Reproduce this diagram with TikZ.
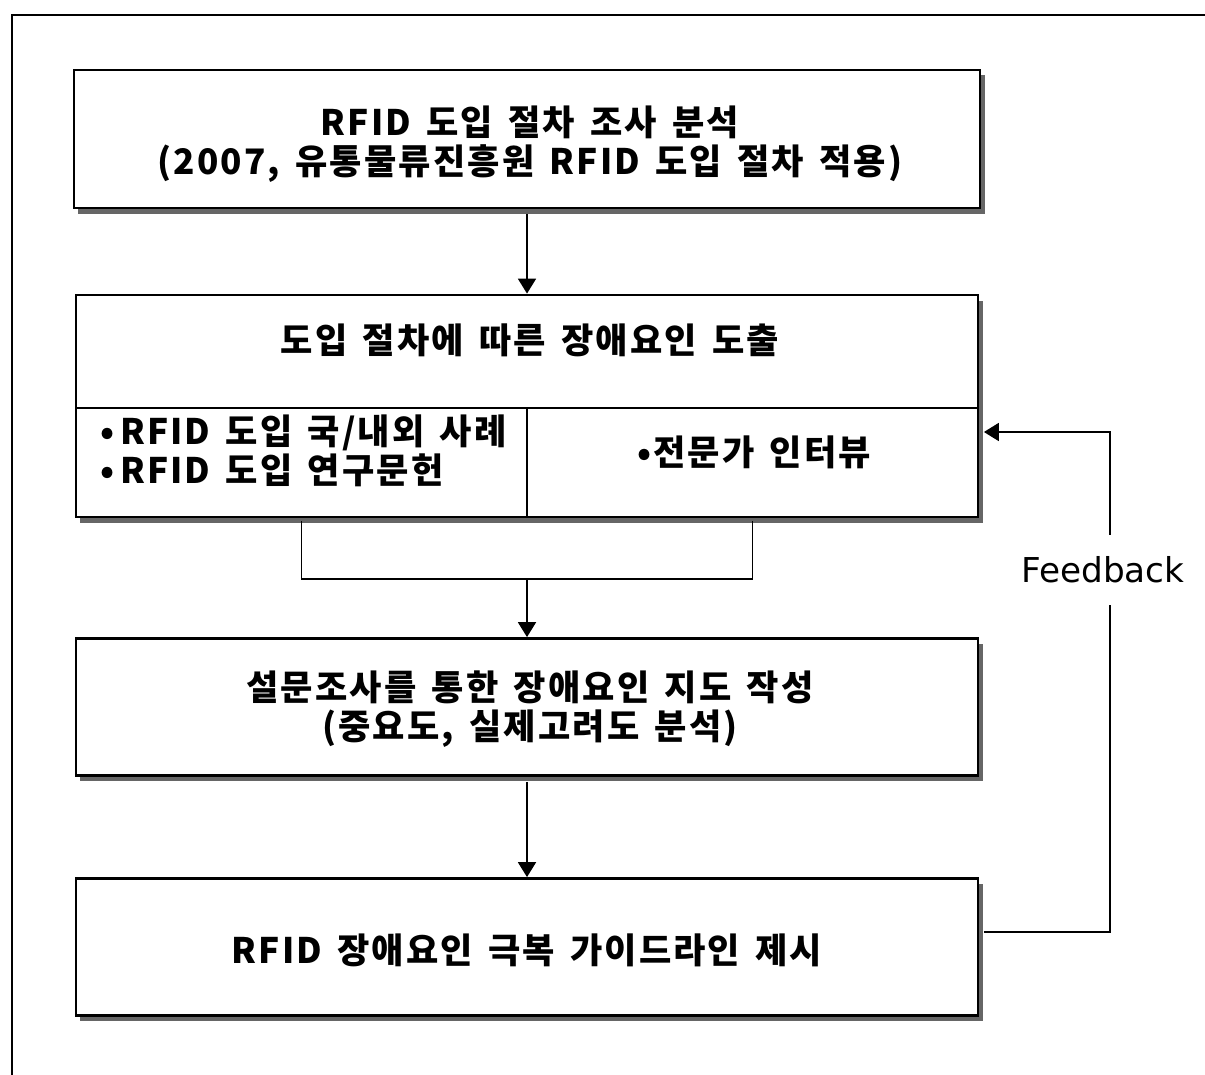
\documentclass[tikz,border=0pt]{standalone}
\usepackage{fontspec}
\newfontfamily\kr{Noto Sans CJK KR}[LetterSpace=6, WordSpace=1.5]
\newfontfamily\fbfont{DejaVu Sans}
\usetikzlibrary{arrows.meta,shadows}

\tikzset{
  box/.style={draw=black, line width=1.6pt, fill=white, rectangle,
    drop shadow={shadow xshift=0.09cm, shadow yshift=-0.11cm, fill=black!60, opacity=1}},
  cell/.style={rectangle, inner sep=0pt},
  txt/.style={font=\kr\bfseries\fontsize{20}{22.5}\selectfont, align=center, inner sep=0pt},
  link/.style={line width=1.1pt},
  flow/.style={link, -{Triangle[length=0.3cm, width=0.36cm]}},
}

\begin{document}
\begin{tikzpicture}[x=0.02cm, y=-0.02cm]
  \useasboundingbox (0,0) rectangle (1205,1075);
  % open frame: left and top edges only
  \draw[line width=1.7pt] (12,1075) -- (12,15) -- (1205,15);

  % step 1
  \node[box, minimum width=906*0.02cm, minimum height=138*0.02cm] (box1) at (527,139) {};
  \node[txt] (t1) at (530,144) {RFID 도입 절차 조사 분석\\(2007, 유통물류진흥원 RFID 도입 절차 적용)};

  % step 2 with two sub-cells
  \node[box, minimum width=902*0.02cm, minimum height=222*0.02cm] (box2) at (527,406) {};
  \draw[line width=1.3pt] (76,408) -- (978,408);
  \node[txt] (t2) at (530,340) {도입 절차에 따른 장애요인 도출};
  \node[cell, minimum width=451*0.02cm, minimum height=108*0.02cm] (cellL) at (301.5,462) {};
  \node[cell, minimum width=451*0.02cm, minimum height=108*0.02cm] (cellR) at (752.5,462) {};
  \draw[line width=1.3pt] (cellL.north east) -- (cellL.south east);
  \node[txt, align=left, anchor=west] (tL) at (100,451) {•\,RFID 도입 국/내외 사례\\•\,RFID 도입 연구문헌};
  \node[txt] (tR) at (754,452) {•전문가 인터뷰};

  % merge bracket under the two cells
  \coordinate (join) at (527,579);
  \draw[link] ([yshift=-0.1cm]cellL.south) -- (cellL.south |- join) -- (cellR.south |- join) -- ([yshift=-0.1cm]cellR.south);

  % step 3
  \node[box, minimum width=902*0.02cm, minimum height=137*0.02cm] (box3) at (527,707) {};
  \node[txt] (t3) at (530,709) {설문조사를 통한 장애요인 지도 작성\\(중요도, 실제고려도 분석)};

  % step 4
  \node[box, minimum width=902*0.02cm, minimum height=137*0.02cm] (box4) at (527,947) {};
  \node[txt] (t4) at (527,950) {RFID 장애요인 극복 가이드라인 제시};

  % main flow
  \draw[flow] ([yshift=-0.1cm]box1.south) -- (box2.north);
  \draw[flow] (join) -- (box3.north);
  \draw[flow] ([yshift=-0.1cm]box3.south) -- (box4.north);

  % feedback loop
  \coordinate (fbB) at (1110,932);
  \coordinate (fbT) at (1110,432);
  \node[font=\fbfont\fontsize{19.5}{20}\selectfont, inner sep=0pt, minimum height=70*0.02cm] (fbl) at (1103,570) {Feedback};
  \draw[link] ([xshift=0.09cm]box4.east |- fbB) -- (fbB) -- (fbB |- fbl.south);
  \draw[flow] (fbT |- fbl.north) -- (fbT) -- ([xshift=0.09cm]box2.east |- fbT);
\end{tikzpicture}
\end{document}
